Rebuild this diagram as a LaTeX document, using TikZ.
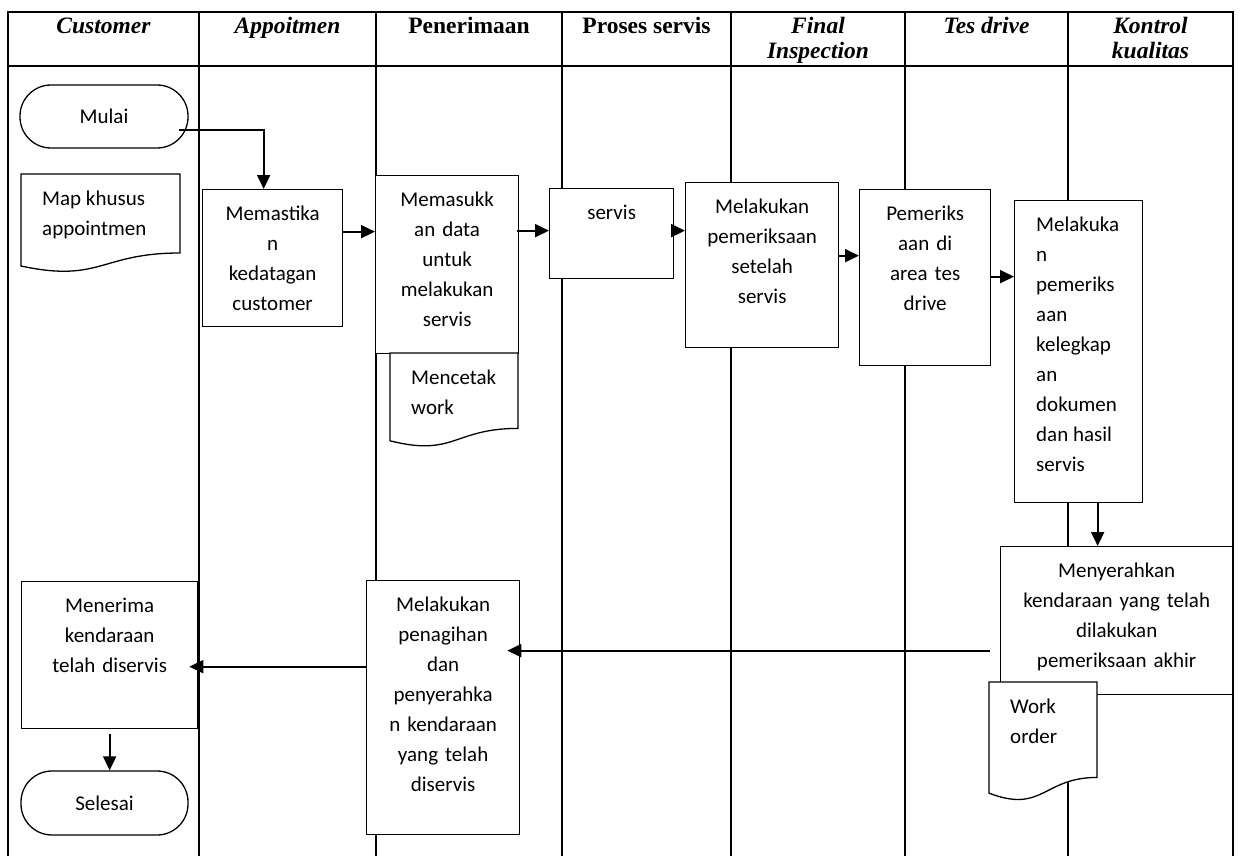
\documentclass[tikz,border=0pt]{standalone}
\usepackage{fontspec}
\newfontfamily\boxfont{Carlito}
\newfontfamily\headfont{Liberation Serif}
\usetikzlibrary{arrows.meta}

% process box: name, left, top, width, height, text (centred, near the top)
\newcommand\procbox[6]{%
  \node[shp, rectangle, anchor=north west, minimum width=#4pt, minimum height=#5pt] (#1) at (#2,#3) {};
  \node[txt, text width=#4pt, align=center, anchor=north] (#1-t) at ([yshift=-14pt]#1.north) {\rule{0pt}{17pt}#6};
}
% document symbol with a wavy lower edge: name, left, top, width, height, text
\newcommand\docbox[6]{%
  \draw[shp] (#2,#3) -- ({#2+#4},#3) -- ({#2+#4},{#3+0.802*#5})
    .. controls ({#2+0.5*#4},{#3+0.802*#5}) and ({#2+0.5*#4},{#3+1.1075*#5}) .. (#2,{#3+0.934*#5}) -- cycle;
  \node[txt, align=left, anchor=north west] (#1) at ({#2+21},{#3+14}) {\rule{0pt}{17pt}#6};
}

\begin{document}
\begin{tikzpicture}[x=1pt,y=-1pt,
  grid/.style={line width=1.8pt},
  shp/.style={draw, line width=1.3pt, fill=white, inner sep=0pt},
  txt/.style={inner sep=0pt, font=\boxfont\fontsize{21}{30}\selectfont},
  term/.style={shp, txt, rounded corners=31pt},
  head/.style={inner sep=0pt, align=center, anchor=north,
    font=\headfont\bfseries\fontsize{23.5}{25.5}\selectfont},
  arr/.style={line width=1.9pt, -{Triangle[length=14pt,width=13pt]}},
]
\useasboundingbox (0,0) rectangle (1242,856);
\fill[white] (0,0) rectangle (1242,856);

% swimlane table
\draw[grid] (8,856) -- (8,12) -- (1233,12) -- (1233,856);
\draw[grid] (8,66) -- (1233,66);
\foreach \x in {199,376,562,731,905,1068}
  \draw[grid] (\x,12) -- (\x,856);

% lane headings
\node[head] (h1) at (103.5,16) {\rule{0pt}{17pt}\itshape Customer};
\node[head] (h2) at (287.5,16) {\rule{0pt}{17pt}\itshape Appoitmen};
\node[head] (h3) at (469,16) {\rule{0pt}{17pt}Penerimaan};
\node[head] (h4) at (646.5,16) {\rule{0pt}{17pt}Proses servis};
\node[head] (h5) at (818,16) {\rule{0pt}{17pt}\itshape Final\\\itshape Inspection};
\node[head] (h6) at (986.5,16) {\rule{0pt}{17pt}\itshape Tes drive};
\node[head] (h7) at (1150.5,16) {\rule{0pt}{17pt}\itshape Kontrol\\\itshape kualitas};

% terminals
\node[term, minimum width=168pt, minimum height=63pt] (mulai) at (104,116.5) {Mulai};
\node[term, minimum width=167pt, minimum height=64pt] (selesai) at (104.5,803) {Selesai};

% documents
\docbox{map}{21}{174}{159}{98.5}{Map khusus\\appointmen}

% process steps
\procbox{mst}{202}{189}{140}{137}{Memastika\\n\\kedatagan\\customer}
\procbox{mas}{375}{175}{143}{178}{Memasukk\\an data\\untuk\\melakukan\\servis}
\docbox{cetak}{390}{353}{128}{94}{Mencetak\\work}
\procbox{srv}{549}{188}{124}{90}{servis}
\procbox{per}{685}{182}{153}{165}{Melakukan\\pemeriksaan\\setelah\\servis}
\procbox{pem}{859}{189}{131}{176}{Pemeriks\\aan di\\area tes\\drive}
\node[shp, rectangle, anchor=north west, minimum width=128pt, minimum height=302pt] (kon) at (1014,200) {};
\node[txt, align=left, anchor=north west] (kon-t) at (1036,214)
  {\rule{0pt}{17pt}Melakuka\\n\\pemeriks\\aan\\kelegkap\\an\\dokumen\\dan hasil\\servis};
\procbox{men}{1000}{546}{232}{148}{Menyerahkan\\kendaraan yang telah\\dilakukan\\pemeriksaan akhir}
\docbox{wo}{989}{682}{108}{119}{Work\\order}
\procbox{pen}{366}{580}{153}{254}{Melakukan\\penagihan\\dan\\penyerahka\\n kendaraan\\yang telah\\diservis}
\procbox{mnr}{21}{581}{176}{147}{Menerima\\kendaraan\\telah diservis}

% flow
\draw[arr] ([xshift=-10pt,yshift=-13.5pt]mulai.east) -| ([xshift=-9pt]mst.north);
\draw[arr] ([yshift=26.5pt]mst.east) coordinate (a1) -- (a1 -| mas.west);
\draw[arr] ([xshift=-2pt,yshift=34pt]mas.east) coordinate (a2) -- (a2 -| srv.west);
\draw[arr] ([yshift=3pt]srv.east) coordinate (a3) -- (a3 -| per.west);
\draw[arr] ([yshift=9.5pt]per.east) coordinate (a4) -- (a4 -| pem.west);
\draw[arr] ([yshift=1pt]pem.east) coordinate (a5) -- (a5 -| kon.west);
\draw[arr] ([xshift=19pt]kon.south) coordinate (a6) -- (a6 |- men.north);
\path ([xshift=-10pt,yshift=-30pt]men.west) coordinate (a7) (a7 -| pen.east) coordinate (a7e);
\draw[arr] (a7) -- ([xshift=-13pt]a7e);
\path ([yshift=41pt]pen.west) coordinate (a8) (a8 -| mnr.east) coordinate (a8e);
\draw[arr] (a8) -- ([xshift=-9pt]a8e);
\draw[arr] ([yshift=-5pt]mnr.south) coordinate (a9) -- (a9 |- selesai.north);
\end{tikzpicture}
\end{document}
